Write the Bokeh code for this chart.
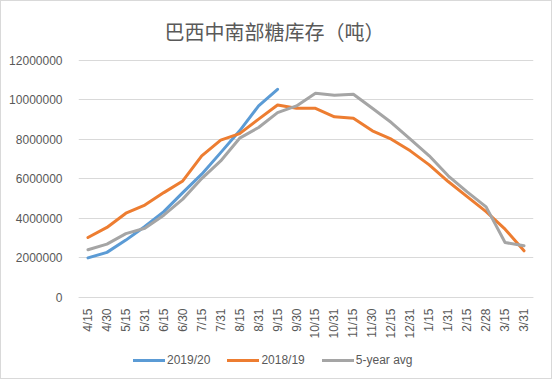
import math
from bokeh.plotting import figure
from bokeh.models import FactorRange, Range1d, FixedTicker, NumeralTickFormatter, Legend, LegendItem, Title
from bokeh.embed import file_html
from bokeh.resources import INLINE

dates = ["4/15", "4/30", "5/15", "5/31", "6/15", "6/30", "7/15", "7/31", "8/15", "8/31",
         "9/15", "9/30", "10/15", "10/31", "11/15", "11/30", "12/15", "12/31", "1/15", "1/31",
         "2/15", "2/28", "3/15", "3/31"]
s2019_20 = [2000000, 2280000, 2900000, 3590000, 4340000, 5300000, 6230000, 7320000, 8420000,
            9680000, 10520000]
s2018_19 = [3030000, 3540000, 4260000, 4670000, 5300000, 5890000, 7160000, 7950000, 8280000,
            9010000, 9730000, 9560000, 9560000, 9130000, 9060000, 8420000, 8000000, 7410000,
            6700000, 5860000, 5100000, 4340000, 3450000, 2360000]
avg5 = [2410000, 2700000, 3230000, 3500000, 4160000, 4970000, 6010000, 6900000, 8050000,
        8590000, 9340000, 9680000, 10320000, 10220000, 10270000, 9560000, 8840000, 8000000,
        7160000, 6150000, 5340000, 4580000, 2780000, 2610000]
yticks = [0, 2000000, 4000000, 6000000, 8000000, 10000000, 12000000]

title_text = "巴西中南部糖库存（吨）"
grey_text = "#595959"
grid_col = "#d9d9d9"

# layout (canvas pixels)
W, H = 552, 379
top_px, bottom_px = 58, 376          # frame top / bottom
zero_px, ymax_px = 296, 58.5         # where 0 and 12M sit
ymax = yticks[-1]
per_px = ymax / (zero_px - ymax_px)
y_start = -(bottom_px - zero_px) * per_px
y_end = ymax + (ymax_px - top_px) * per_px

p = figure(width=W, height=H, output_backend="svg", toolbar_location=None,
           x_range=FactorRange(*dates, range_padding=0), y_range=Range1d(y_start, y_end),
           min_border_left=77, min_border_right=20, min_border_top=top_px,
           min_border_bottom=H - bottom_px)
p.title = None
t = Title(text=title_text, align="left", offset=86, text_font="Noto Sans CJK SC",
          text_font_size="20px", text_font_style="normal", text_color=grey_text, standoff=24,
          vertical_align="top")
p.add_layout(t, "above")

p.outline_line_color = None
p.xgrid.grid_line_color = None
p.ygrid.grid_line_color = grid_col
p.ygrid.ticker = FixedTicker(ticks=yticks)

p.yaxis.ticker = FixedTicker(ticks=yticks)
p.yaxis.formatter = NumeralTickFormatter(format="0")
p.yaxis.axis_line_color = None
p.yaxis.major_tick_line_color = None
p.yaxis.minor_tick_line_color = None
p.yaxis.major_label_text_font = "Liberation Sans"
p.yaxis.major_label_text_font_size = "12px"
p.yaxis.major_label_text_color = grey_text
p.yaxis.major_label_standoff = 10

p.xaxis.fixed_location = 0
p.xaxis.axis_line_color = grid_col
p.xaxis.major_tick_line_color = None
p.xaxis.minor_tick_line_color = None
p.xaxis.major_label_orientation = math.pi / 2
p.xaxis.major_label_text_font = "Liberation Sans"
p.xaxis.major_label_text_font_size = "12px"
p.xaxis.major_label_text_color = grey_text
p.xaxis.major_label_standoff = 5

r1 = p.line(x=dates[:len(s2019_20)], y=s2019_20, line_width=3, line_color="#5B9BD5", line_join="round", line_cap="round")
r2 = p.line(x=dates, y=s2018_19, line_width=3, line_color="#ED7D31", line_join="round", line_cap="round")
r3 = p.line(x=dates, y=avg5, line_width=3, line_color="#A5A5A5", line_join="round", line_cap="round")

legend = Legend(items=[LegendItem(label="2019/20", renderers=[r1]),
                       LegendItem(label="2018/19", renderers=[r2]),
                       LegendItem(label="5-year avg", renderers=[r3])],
                orientation="horizontal", location=(55, 10), padding=0, margin=0,
                glyph_width=32, glyph_height=14, label_standoff=2, spacing=17,
                label_text_font="Liberation Sans", label_text_font_size="12px",
                label_text_color=grey_text, border_line_color=None, background_fill_alpha=0)
p.add_layout(legend, "center")

p.styles = {"border": "1px solid #d9d9d9"}

open("out.html", "w").write(file_html(p, INLINE))
